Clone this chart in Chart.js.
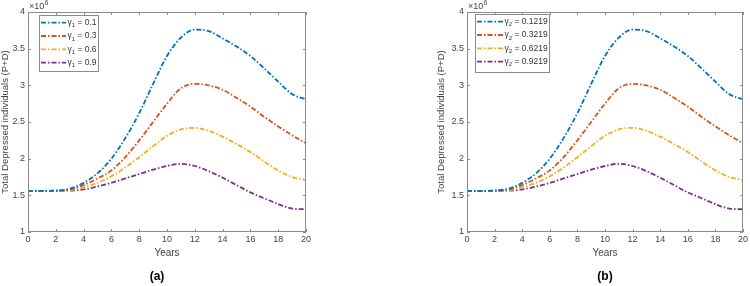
<!DOCTYPE html>
<html>
<head>
<meta charset="utf-8">
<script src="https://cdn.jsdelivr.net/npm/chart.js@4.4.1/dist/chart.umd.min.js"></script>
<style>
  body { margin: 0; background: #fff; }
  .wrap { display: flex; width: 750px; height: 286px; }
  canvas { display: block; }
</style>
</head>
<body>
<div class="wrap">
  <canvas id="chartA" width="375" height="286"></canvas>
  <canvas id="chartB" width="375" height="286"></canvas>
</div>
<script>
// data, values in units of 10^6
const years = [0, 1, 2, 3, 4, 5, 6, 7, 8, 9, 10, 11, 12, 13, 14, 15, 16, 17, 18, 19, 20];
const xTicks = [0, 2, 4, 6, 8, 10, 12, 14, 16, 18, 20];
const yTicks = [1, 1.5, 2, 2.5, 3, 3.5, 4];

const seriesBlue = [1.56, 1.56, 1.565, 1.59, 1.67, 1.80, 2.00, 2.28, 2.62, 3.02, 3.40, 3.65, 3.76, 3.74, 3.64, 3.53, 3.40, 3.23, 3.05, 2.88, 2.81];
const seriesRed = [1.56, 1.56, 1.565, 1.58, 1.64, 1.73, 1.84, 2.02, 2.25, 2.50, 2.75, 2.96, 3.02, 3.00, 2.94, 2.83, 2.71, 2.57, 2.44, 2.32, 2.21];
const seriesYellow = [1.56, 1.56, 1.563, 1.57, 1.61, 1.67, 1.76, 1.88, 2.02, 2.17, 2.31, 2.40, 2.42, 2.38, 2.30, 2.20, 2.09, 1.96, 1.84, 1.75, 1.71];
const seriesPurple = [1.56, 1.56, 1.56, 1.565, 1.58, 1.62, 1.67, 1.73, 1.79, 1.85, 1.90, 1.93, 1.90, 1.83, 1.74, 1.64, 1.54, 1.46, 1.38, 1.32, 1.31];

const gamma1Labels = ["0.1", "0.3", "0.6", "0.9"];
const gamma2Labels = ["0.1219", "0.3219", "0.6219", "0.9219"];

const colors = ["#0072BD", "#D95319", "#EDB120", "#7E2F8E"];
const FONT = "'Liberation Sans', Arial, sans-serif";

const makeDatasets = () =>
  [seriesBlue, seriesRed, seriesYellow, seriesPurple].map((s, i) => ({
    data: s.map((v, j) => ({ x: years[j], y: v })),
    borderColor: colors[i],
    borderWidth: 1.8,
    borderDash: [5, 2, 1.5, 2],
    pointRadius: 0,
    fill: false,
    cubicInterpolationMode: "monotone",
  }));

// box, inward ticks, legend, exponent and panel letter
const matlabPlugin = {
  id: "matlab",
  afterDatasetsDraw(chart, args, opts) {
    const ctx = chart.ctx;
    const a = chart.chartArea;
    const xs = chart.scales.x;
    const ys = chart.scales.y;
    ctx.save();
    ctx.strokeStyle = "#8c8c8c";
    ctx.lineWidth = 1;
    ctx.setLineDash([]);
    ctx.strokeRect(a.left + 0.5, a.top + 0.5, a.right - a.left - 1, a.bottom - a.top - 1);
    ctx.beginPath();
    xTicks.forEach((t) => {
      const px = Math.round(xs.getPixelForValue(t)) + 0.5;
      ctx.moveTo(px, a.bottom);
      ctx.lineTo(px, a.bottom - 3);
      ctx.moveTo(px, a.top);
      ctx.lineTo(px, a.top + 3);
    });
    yTicks.forEach((t) => {
      const py = Math.round(ys.getPixelForValue(t)) + 0.5;
      ctx.moveTo(a.left, py);
      ctx.lineTo(a.left + 3, py);
      ctx.moveTo(a.right, py);
      ctx.lineTo(a.right - 3, py);
    });
    ctx.stroke();

    // exponent
    ctx.fillStyle = "#444";
    ctx.textBaseline = "alphabetic";
    ctx.textAlign = "left";
    ctx.font = "9px " + FONT;
    ctx.fillText("×10", a.left + 1, a.top - 3);
    const w = ctx.measureText("×10").width;
    ctx.font = "6.5px " + FONT;
    ctx.fillText("6", a.left + 1 + w + 0.5, a.top - 7);

    // legend
    const L = opts.legend;
    ctx.fillStyle = "#fff";
    ctx.fillRect(L.x, L.y, L.w, L.h);
    ctx.strokeStyle = "#8c8c8c";
    ctx.strokeRect(L.x + 0.5, L.y + 0.5, L.w - 1, L.h - 1);
    chart.data.datasets.forEach((ds, i) => {
      const cy = L.y + 7.7 + i * 13.3;
      ctx.strokeStyle = ds.borderColor;
      ctx.lineWidth = 1.8;
      ctx.setLineDash(ds.borderDash);
      ctx.beginPath();
      ctx.moveTo(L.x + 2, cy);
      ctx.lineTo(L.x + L.line, cy);
      ctx.stroke();
      ctx.setLineDash([]);
      ctx.fillStyle = "#333";
      ctx.textBaseline = "middle";
      let tx = L.x + L.line + 1.5;
      ctx.font = "8.5px " + FONT;
      ctx.fillText("γ", tx, cy);
      tx += ctx.measureText("γ").width;
      ctx.font = "6px " + FONT;
      ctx.fillText(opts.sub, tx, cy + 3);
      tx += ctx.measureText(opts.sub).width;
      ctx.font = "8.5px " + FONT;
      ctx.fillText(" = " + opts.labels[i], tx, cy);
    });

    // panel letter
    ctx.fillStyle = "#000";
    ctx.font = "bold 12px " + FONT;
    ctx.textAlign = "center";
    ctx.textBaseline = "middle";
    ctx.fillText(opts.letter, opts.letterX, 277);
    ctx.restore();
  },
};

const makeChart = (id, padLeft, padRight, yWidth, titlePad, extra) => {
  const config = {
    type: "line",
    data: { datasets: makeDatasets() },
    options: {
      responsive: false,
      animation: false,
      layout: { padding: { left: padLeft, right: padRight, top: 12, bottom: 24 } },
      plugins: { legend: { display: false }, tooltip: { enabled: false }, matlab: extra },
      scales: {
        x: {
          type: "linear",
          min: 0,
          max: 20,
          afterBuildTicks: (s) => { s.ticks = xTicks.map((v) => ({ value: v })); },
          afterFit: (s) => { s.height = 30; },
          grid: { display: false, drawTicks: false },
          border: { display: false },
          ticks: { padding: 2, color: "#444", font: { family: FONT, size: 9 }, callback: (v) => String(v) },
          title: { display: true, text: "Years", color: "#444", font: { family: FONT, size: 10 }, padding: { top: 0, bottom: 3 } },
        },
        y: {
          type: "linear",
          min: 1,
          max: 4,
          afterBuildTicks: (s) => { s.ticks = yTicks.map((v) => ({ value: v })); },
          afterFit: (s) => { s.width = yWidth; },
          grid: { display: false, drawTicks: false },
          border: { display: false },
          ticks: { padding: 3, color: "#444", font: { family: FONT, size: 9 }, callback: (v) => String(v) },
          title: { display: true, text: "Total Depressed individuals (P+D)", color: "#444", font: { family: FONT, size: 9.5 }, padding: { top: titlePad, bottom: 0 } },
        },
      },
    },
    plugins: [matlabPlugin],
  };
  return new Chart(document.getElementById(id), config);
};

makeChart("chartA", 0, 69, 28, 0, {
  legend: { x: 39, y: 15, w: 60, h: 57, line: 27 },
  labels: gamma1Labels,
  sub: "1",
  letter: "(a)",
  letterX: 157,
});

makeChart("chartB", 61, 5, 31, 0, {
  legend: { x: 100, y: 14, w: 75, h: 59, line: 28 },
  labels: gamma2Labels,
  sub: "2",
  letter: "(b)",
  letterX: 230,
});
</script>
</body>
</html>
